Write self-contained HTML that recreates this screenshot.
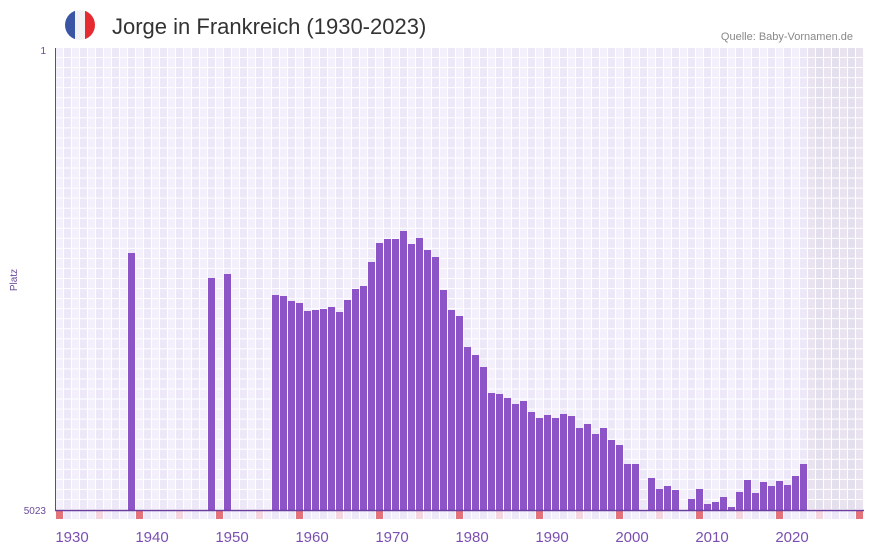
<!DOCTYPE html>
<html><head><meta charset="utf-8"><style>
body{margin:0;background:#fff;}
svg{display:block;font-family:"Liberation Sans",sans-serif;}
</style></head><body>
<svg id="s" width="873" height="552" xmlns="http://www.w3.org/2000/svg">
<defs><clipPath id="fc"><circle cx="80" cy="25" r="15"/></clipPath></defs>
<g clip-path="url(#fc)"><rect x="65" y="10" width="10" height="30" fill="#3b55a5"/><rect x="75" y="10" width="10" height="30" fill="#f2f2f4"/><rect x="85" y="10" width="10" height="30" fill="#e52b30"/></g>
<text x="112" y="34" font-size="22" fill="#333">Jorge in Frankreich (1930-2023)</text>
<text x="853" y="40" font-size="11" fill="#888" text-anchor="end">Quelle: Baby-Vornamen.de</text>
<g id="grid"></g>
<g id="bars" fill="#8c54c6"></g>
<line x1="55.5" y1="48" x2="55.5" y2="510" stroke="#6a3fa0" stroke-width="1"/>
<line x1="55" y1="510.5" x2="864" y2="510.5" stroke="#6a3fa0" stroke-width="1.5"/>
<text x="46" y="54" font-size="10" fill="#6a4a9a" text-anchor="end">1</text>
<text x="46" y="514" font-size="10" fill="#6a4a9a" text-anchor="end">5023</text>
<text transform="translate(17,280) rotate(-90)" font-size="10" fill="#6a4a9a" text-anchor="middle">Platz</text>
<g id="xl" font-size="15" fill="#7a4fb0" text-anchor="middle"></g>
</svg>
<script>
var NS="http://www.w3.org/2000/svg";
function r(p,x,y,w,h,f){var e=document.createElementNS(NS,"rect");e.setAttribute("x",x);e.setAttribute("y",y);e.setAttribute("width",w);e.setAttribute("height",h);e.setAttribute("fill",f);p.appendChild(e);}
var g=document.getElementById("grid"),b=document.getElementById("bars"),xl=document.getElementById("xl");
var rh=462/46;
for(var c=0;c<101;c++){
 var x=56+c*8,sh=c>=94;
 var col=sh?(c%2?"#e4dfec":"#e8e3ef"):(c%2?"#ede8f8":"#f3f0fb");
 for(var k=0;k<46;k++){r(g,x,48+k*rh,7,rh-1,col);}
 var bc=(c%10==0)?"#e5737a":(c%10==5)?"#f5d6e0":(c%2?"#ede8f8":"#f3f0fb");
 r(g,x,511,7,8,bc);
}
var tops={128:253,208:278,224:274,272:295,280:296,288:301,296:303,304:311,312:310,320:309,328:307,336:312,344:300,352:289,360:286,368:262,376:243,384:239,392:239,400:231,408:244,416:238,424:250,432:257,440:290,448:310,456:316,464:347,472:355,480:367,488:393,496:394,504:398,512:404,520:401,528:412,536:418,544:415,552:418,560:414,568:416,576:428,584:424,592:434,600:428,608:440,616:445,624:464,632:464,648:478,656:489,664:486,672:490,688:499,696:489,704:504,712:502,720:497,728:507,736:492,744:480,752:493,760:482,768:486,776:481,784:485,792:476,800:464};
for(var k in tops){r(b,+k,tops[k],7,510-tops[k],"#8c54c6");}
for(var i=0;i<10;i++){var t=document.createElementNS(NS,"text");t.setAttribute("x",72+i*80);t.setAttribute("y",542);t.textContent=1930+i*10;xl.appendChild(t);}
</script>
</body></html>
